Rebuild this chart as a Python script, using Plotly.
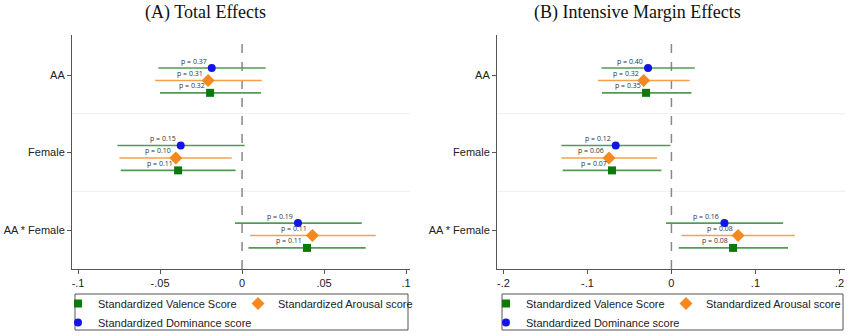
import plotly.graph_objects as go

categories = ["AA", "Female", "AA * Female"]
series_names = ["Standardized Valence Score", "Standardized Arousal score", "Standardized Dominance score"]

# Panel A: Total Effects  (estimate, lower CI, upper CI) per category
a_valence = [-0.0195, -0.0390, 0.0396]
a_valence_lo = [-0.0500, -0.0740, 0.0039]
a_valence_hi = [0.0116, -0.0039, 0.0754]
a_valence_p = ["0.32", "0.11", "0.11"]

a_arousal = [-0.0207, -0.0404, 0.0429]
a_arousal_lo = [-0.0530, -0.0748, 0.0049]
a_arousal_hi = [0.0120, -0.0063, 0.0815]
a_arousal_p = ["0.31", "0.10", "0.11"]

a_dominance = [-0.0185, -0.0374, 0.0341]
a_dominance_lo = [-0.0510, -0.0760, -0.0043]
a_dominance_hi = [0.0144, 0.0016, 0.0730]
a_dominance_p = ["0.37", "0.15", "0.19"]

# Panel B: Intensive Margin Effects
b_valence = [-0.0302, -0.0707, 0.0734]
b_valence_lo = [-0.0826, -0.1294, 0.0087]
b_valence_hi = [0.0238, -0.0119, 0.1388]
b_valence_p = ["0.35", "0.07", "0.08"]

b_arousal = [-0.0330, -0.0743, 0.0793]
b_arousal_lo = [-0.0874, -0.1310, 0.0119]
b_arousal_hi = [0.0218, -0.0171, 0.1468]
b_arousal_p = ["0.32", "0.06", "0.08"]

b_dominance = [-0.0278, -0.0663, 0.0631]
b_dominance_lo = [-0.0833, -0.1310, -0.0064]
b_dominance_hi = [0.0277, -0.0012, 0.1329]
b_dominance_p = ["0.40", "0.12", "0.16"]

a_ticks = [-0.1, -0.05, 0, 0.05, 0.1]
a_ticktext = ["-.1", "-.05", "0", ".05", ".1"]
b_ticks = [-0.2, -0.1, 0, 0.1, 0.2]
b_ticktext = ["-.2", "-.1", "0", ".1", ".2"]

titles = ["(A) Total Effects", "(B) Intensive Margin Effects"]

W, H = 850, 336
fig = go.Figure()

offsets = {"val": 0.23, "aro": 0.07, "dom": -0.09}
styles = {
    "val": dict(symbol="square", size=8, color="#0b7a0b", line="#4f9d4f", group="c1"),
    "aro": dict(symbol="diamond", size=10, color="#f5891f", line="#f5a050", group="c2"),
    "dom": dict(symbol="circle", size=8, color="#1414e6", line="#4f9d4f", group="c1"),
}

panels = [
    ("x", "y", "legend", [("val", a_valence, a_valence_lo, a_valence_hi, a_valence_p),
                           ("aro", a_arousal, a_arousal_lo, a_arousal_hi, a_arousal_p),
                           ("dom", a_dominance, a_dominance_lo, a_dominance_hi, a_dominance_p)]),
    ("x2", "y2", "legend2", [("val", b_valence, b_valence_lo, b_valence_hi, b_valence_p),
                              ("aro", b_arousal, b_arousal_lo, b_arousal_hi, b_arousal_p),
                              ("dom", b_dominance, b_dominance_lo, b_dominance_hi, b_dominance_p)]),
]
names = {"val": series_names[0], "aro": series_names[1], "dom": series_names[2]}

annotations = []
for xa, ya, lg, series in panels:
    for key, est, lo, hi, pv in series:
        st = styles[key]
        ys = [i + offsets[key] for i in range(len(categories))]
        fig.add_trace(go.Scatter(
            x=est, y=ys, mode="markers", name=names[key], xaxis=xa, yaxis=ya, legend=lg,
            legendgroup=lg + st["group"],
            marker=dict(symbol=st["symbol"], size=st["size"], color=st["color"], line=dict(width=0)),
            error_x=dict(type="data", symmetric=False,
                         array=[h - e for h, e in zip(hi, est)],
                         arrayminus=[e - l for e, l in zip(est, lo)],
                         color=st["line"], thickness=1.6, width=0),
            hoverinfo="skip",
        ))
        for e, yv, p in zip(est, ys, pv):
            annotations.append(dict(x=e, y=yv, xref=xa, yref=ya, text="p = " + p, showarrow=False,
                                    xshift=-18, yshift=7, font=dict(size=7, color="#333333",
                                    family="Open Sans")))

def px_x(p):
    return p / W

def px_y(p):
    return 1 - p / H

ydom = [px_y(269), px_y(35)]
axis_common = dict(showgrid=False, zeroline=False, showline=True, linecolor="#555555", linewidth=1,
                   ticks="outside", ticklen=4, tickcolor="#555555",
                   tickfont=dict(family="Liberation Sans, Arial", size=11, color="#222222"))
legend_common = dict(xanchor="left", yanchor="top", orientation="h",
                     borderwidth=0, bgcolor="rgba(0,0,0,0)",
                     entrywidth=135, entrywidthmode="pixels",
                     font=dict(family="Liberation Sans, Arial", size=11, color="#222222"),
                     tracegroupgap=0, groupclick="toggleitem")
fig.update_layout(
    width=W, height=H, margin=dict(l=0, r=0, t=0, b=0, autoexpand=False),
    paper_bgcolor="white", plot_bgcolor="white",
    xaxis=dict(domain=[px_x(72), px_x(410)], range=[-0.1037, 0.1024], anchor="y",
               tickvals=a_ticks, ticktext=a_ticktext, **axis_common),
    yaxis=dict(domain=ydom, range=[2.502, -0.516], anchor="x",
               tickvals=[0, 1, 2], ticktext=categories, **axis_common),
    xaxis2=dict(domain=[px_x(497), px_x(845)], range=[-0.2076, 0.2066], anchor="y2",
                tickvals=b_ticks, ticktext=b_ticktext, **axis_common),
    yaxis2=dict(domain=ydom, range=[2.502, -0.516], anchor="x2",
                tickvals=[0, 1, 2], ticktext=categories, **axis_common),
    showlegend=True,
    legend=dict(x=px_x(58), y=px_y(289), **legend_common),
    legend2=dict(x=px_x(486), y=px_y(289), **legend_common),
)

shapes = []
for xa, ya in [("x", "y"), ("x2", "y2")]:
    for yv in [0.5, 1.5]:
        shapes.append(dict(type="line", xref=xa + " domain", yref=ya, x0=0, x1=1, y0=yv, y1=yv,
                           line=dict(color="#eeeeee", width=1), layer="below"))
    shapes.append(dict(type="line", xref=xa, yref=ya + " domain", x0=0, x1=0, y0=0, y1=1,
                       line=dict(color="#888888", width=1.5, dash="dash"), layer="below"))
# legend frames
for x0, x1 in [(75, 408), (502, 843)]:
    shapes.append(dict(type="rect", xref="paper", yref="paper", x0=px_x(x0), x1=px_x(x1),
                       y0=px_y(330), y1=px_y(294), line=dict(color="#555555", width=1),
                       fillcolor="rgba(0,0,0,0)"))

for t, cx in zip(titles, [205, 637]):
    annotations.append(dict(x=px_x(cx), y=px_y(13), xref="paper", yref="paper", text=t,
                            showarrow=False, xanchor="center", yanchor="middle",
                            font=dict(family="Liberation Serif, Times New Roman", size=18,
                                      color="#111111")))

fig.update_layout(shapes=shapes, annotations=annotations)
fig.write_html("out.html")
